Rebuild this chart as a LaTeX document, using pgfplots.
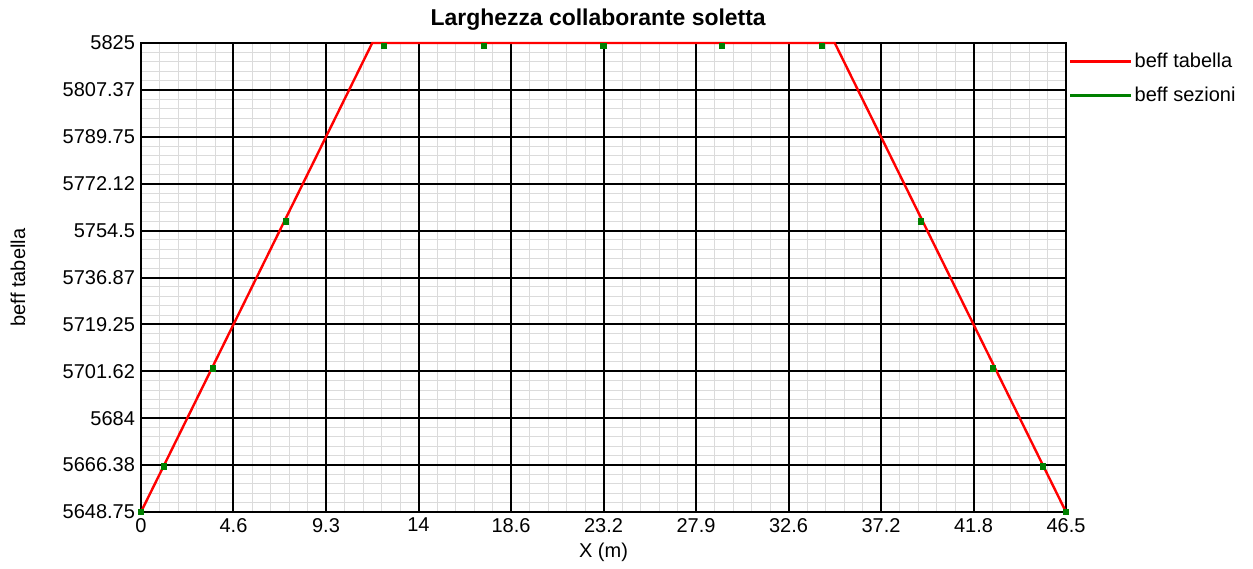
\documentclass[border=0pt]{standalone}
\usepackage{pgfplots}
\pgfplotsset{compat=1.18}
\usepackage{fontspec}
\setmainfont{Liberation Sans}
\definecolor{linered}{RGB}{255,0,0}
\definecolor{markgreen}{RGB}{0,128,0}
\pgfplotsset{
  common/.style={
    scale only axis,
    width=693.75pt, height=351.75pt,
    xmin=0, xmax=46.5, ymin=5648.75, ymax=5825,
    xtick={0,4.65,9.3,13.95,18.6,23.25,27.9,32.55,37.2,41.85,46.5},
    ytick={5648.75,5666.375,5684,5701.625,5719.25,5736.875,5754.5,5772.125,5789.75,5807.375,5825},
    tick style={draw=none},
  }
}
\begin{document}
\begin{tikzpicture}[x=1pt,y=1pt]
\useasboundingbox (-105.75pt,-42pt) rectangle (834pt,384pt);
% minor grid only
\begin{axis}[
  common,
  minor x tick num=4, minor y tick num=4,
  grid=minor,
  minor grid style={black!14, line width=0.75pt},
  xticklabels={}, yticklabels={},
  axis line style={draw=none},
]
\end{axis}
% major grid, labels and data
\begin{axis}[
  common,
  xticklabels={0,4.6,9.3,14,18.6,23.2,27.9,32.6,37.2,41.8,46.5},
  yticklabels={5648.75,5666.38,5684,5701.62,5719.25,5736.87,5754.5,5772.12,5789.75,5807.37,5825},
  grid=major,
  major grid style={black, line width=1.5pt},
  axis line style={black, line width=1.5pt},
  tick label style={font=\fontsize{15}{17}\selectfont},
  xticklabel style={yshift=-1pt},
  yticklabel style={xshift=-1pt},
  /pgf/number format/assume math mode=true,
  title={\bfseries Larghezza collaborante soletta},
  title style={font=\fontsize{17.2}{20}\selectfont, at={(axis description cs:0.5,1.053)}, anchor=center, yshift=-6.75pt, xshift=-4pt},
  xlabel={X (m)},
  xlabel style={font=\fontsize{15}{17}\selectfont, at={(axis description cs:0.5,-0.087)}, anchor=center},
  ylabel={beff tabella},
  ylabel style={font=\fontsize{15}{17}\selectfont, at={(axis description cs:-0.133,0.5)}, anchor=center},
  legend style={at={(1.0,0.99)}, anchor=north west, draw=none, fill=none,
    font=\fontsize{15}{17}\selectfont, row sep=9pt, inner sep=2pt},
  legend cell align=left,
  legend image code/.code={\draw[#1, line width=1.8pt] (0cm,0cm) -- (1.6cm,0cm);},
  clip=false,
]
\addplot[linered, line width=1.8pt] coordinates {
  (0,5648.75) (11.625,5825) (34.875,5825) (46.5,5648.75)
};
\addlegendentry{beff tabella}
\addplot[only marks, mark=square*, mark size=2pt, color=markgreen, forget plot] coordinates {
  (0,5648.75) (1.16,5666.0) (3.62,5702.8) (7.29,5758.0) (12.22,5824.0)
  (17.24,5824.0) (23.23,5824.0) (29.21,5824.0) (34.23,5824.0)
  (39.21,5758.0) (42.83,5702.8) (45.34,5666.0) (46.5,5648.75)
};
\addlegendimage{markgreen, line width=1.8pt}
\addlegendentry{beff sezioni}
\end{axis}
\end{tikzpicture}
\end{document}
